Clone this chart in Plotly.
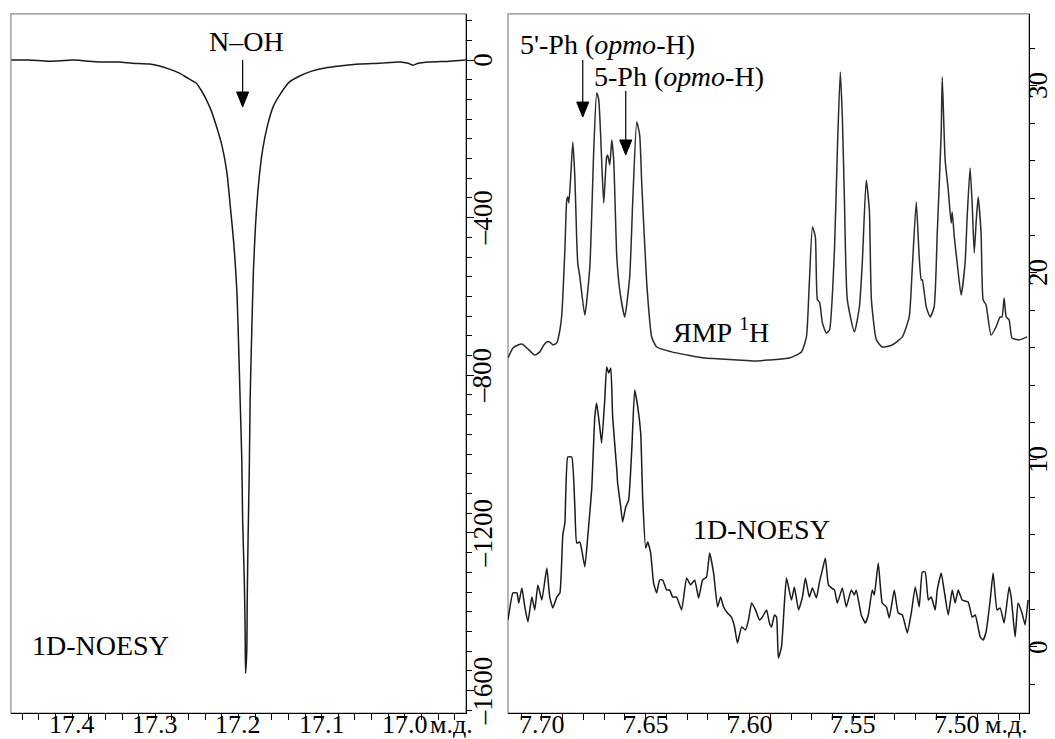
import plotly.graph_objects as go
from plotly.subplots import make_subplots

# left panel: 1D-NOESY, N-OH region
noh_ppm = [17.473, 17.452, 17.428, 17.398, 17.367, 17.343, 17.328, 17.307, 17.295, 17.283,
           17.271, 17.261, 17.255, 17.251, 17.245, 17.239, 17.233, 17.227, 17.220, 17.214,
           17.210, 17.206, 17.202, 17.200, 17.198, 17.196, 17.195, 17.193, 17.192, 17.1915,
           17.190, 17.1895, 17.1885, 17.187, 17.186, 17.184, 17.182, 17.1795, 17.176, 17.171,
           17.165, 17.158, 17.149, 17.139, 17.127, 17.112, 17.096, 17.078, 17.054, 17.030,
           17.006, 16.996, 16.990, 16.984, 16.970, 16.946, 16.927]
noh_int = [0, 0, -3, 0, -5, -5, -8, -10, -15, -23,
           -33, -46, -53, -58, -76, -99, -127, -165, -216, -284,
           -368, -457, -584, -711, -863, -1015, -1168, -1320, -1447, -1556,
           -1497, -1371, -1218, -1041, -863, -685, -533, -419, -317, -228,
           -165, -117, -84, -56, -41, -28, -20, -15, -10, -8,
           -5, -8, -13, -8, -5, -3, 0]

# right panel: 1H spectrum (upper trace)
h1_ppm = [7.7163, 7.7139, 7.7115, 7.7096, 7.7072, 7.7034, 7.7010, 7.6990, 7.6976, 7.6962,
          7.6947, 7.6928, 7.6913, 7.6904, 7.6889, 7.6880, 7.6875, 7.6870, 7.6861, 7.6851,
          7.6841, 7.6832, 7.6827, 7.6817, 7.6793, 7.6769, 7.6750, 7.6736, 7.6726, 7.6712,
          7.6702, 7.6688, 7.6683, 7.6673, 7.6663, 7.6654, 7.6639, 7.6625, 7.6601, 7.6577,
          7.6562, 7.6543, 7.6529, 7.6519, 7.6495, 7.6471, 7.6447, 7.6375, 7.6298, 7.6216,
          7.6135, 7.6058, 7.5976, 7.5904, 7.5808, 7.5750, 7.5726, 7.5712, 7.5697, 7.5683,
          7.5673, 7.5663, 7.5649, 7.5630, 7.5615, 7.5591, 7.5577, 7.5563, 7.5553, 7.5543,
          7.5529, 7.5495, 7.5471, 7.5457, 7.5438, 7.5423, 7.5413, 7.5389, 7.5361, 7.5313,
          7.5264, 7.5231, 7.5216, 7.5197, 7.5183, 7.5173, 7.5168, 7.5149, 7.5130, 7.5111,
          7.5096, 7.5077, 7.5072, 7.5058, 7.5043, 7.5029, 7.5024, 7.5014, 7.5000, 7.4981,
          7.4962, 7.4952, 7.4938, 7.4928, 7.4918, 7.4909, 7.4899, 7.4885, 7.4875, 7.4861,
          7.4837, 7.4813, 7.4793, 7.4784, 7.4774, 7.4764, 7.4750, 7.4736, 7.4702, 7.4663]
h1_int = [15.45, 15.99, 16.15, 16.20, 15.99, 15.61, 15.78, 16.15, 16.31, 16.31,
          16.15, 16.26, 16.95, 17.75, 21.23, 23.90, 24.06, 23.74, 25.13, 27.01,
          25.13, 21.76, 20.53, 19.79, 17.75, 20.32, 26.58, 29.63, 29.25, 26.04,
          23.74, 26.20, 26.31, 25.78, 27.11, 26.04, 20.86, 19.09, 17.65, 19.79,
          23.90, 28.07, 27.38, 24.81, 19.47, 16.58, 16.04, 15.78, 15.61, 15.45,
          15.40, 15.35, 15.29, 15.35, 15.45, 15.78, 16.58, 19.47, 22.46, 21.93,
          18.56, 18.45, 17.33, 16.79, 16.95, 21.23, 26.58, 30.75, 28.34, 23.90,
          18.56, 16.84, 18.18, 20.53, 24.97, 23.37, 18.56, 16.42, 16.04, 16.15,
          16.58, 17.65, 20.32, 23.80, 20.86, 19.63, 19.63, 18.18, 17.65, 18.18,
          22.14, 27.49, 30.48, 26.04, 24.44, 22.67, 23.26, 21.93, 20.53, 18.82,
          20.53, 22.99, 25.61, 23.74, 21.07, 22.67, 24.06, 22.14, 18.56, 18.29,
          16.68, 17.11, 17.65, 17.65, 18.66, 17.65, 17.49, 16.52, 16.42, 16.58]

# right panel: 1D-NOESY (lower trace)
noesy_ppm = [7.7163, 7.7139, 7.7120, 7.7111, 7.7096, 7.7082, 7.7067, 7.7048, 7.7034, 7.7019,
             7.7000, 7.6976, 7.6962, 7.6947, 7.6928, 7.6913, 7.6899, 7.6889, 7.6875, 7.6856,
             7.6841, 7.6832, 7.6817, 7.6808, 7.6793, 7.6779, 7.6760, 7.6745, 7.6736, 7.6721,
             7.6712, 7.6697, 7.6688, 7.6678, 7.6668, 7.6659, 7.6639, 7.6635, 7.6620, 7.6611,
             7.6596, 7.6582, 7.6567, 7.6553, 7.6538, 7.6524, 7.6514, 7.6500, 7.6490, 7.6476,
             7.6462, 7.6447, 7.6433, 7.6418, 7.6399, 7.6385, 7.6370, 7.6351, 7.6327, 7.6303,
             7.6284, 7.6264, 7.6245, 7.6226, 7.6207, 7.6192, 7.6173, 7.6154, 7.6139, 7.6125,
             7.6106, 7.6087, 7.6072, 7.6058, 7.6038, 7.6019, 7.6005, 7.5990, 7.5971, 7.5952,
             7.5938, 7.5918, 7.5904, 7.5894, 7.5880, 7.5870, 7.5861, 7.5846, 7.5832, 7.5822,
             7.5798, 7.5784, 7.5764, 7.5745, 7.5731, 7.5712, 7.5697, 7.5678, 7.5663, 7.5649,
             7.5635, 7.5620, 7.5606, 7.5591, 7.5577, 7.5553, 7.5534, 7.5510, 7.5495, 7.5486,
             7.5462, 7.5442, 7.5428, 7.5409, 7.5399, 7.5380, 7.5361, 7.5341, 7.5327, 7.5303,
             7.5284, 7.5264, 7.5240, 7.5221, 7.5202, 7.5183, 7.5168, 7.5154, 7.5139, 7.5125,
             7.5106, 7.5096, 7.5077, 7.5063, 7.5043, 7.5024, 7.5010, 7.4995, 7.4976, 7.4947,
             7.4928, 7.4913, 7.4889, 7.4875, 7.4861, 7.4841, 7.4827, 7.4808, 7.4793, 7.4774,
             7.4750, 7.4740, 7.4721, 7.4707, 7.4688, 7.4673, 7.4659]
noesy_int = [1.44, 2.89, 2.89, 2.35, 3.16, 2.14, 1.34, 2.67, 1.98, 3.32,
             2.51, 4.22, 2.67, 2.09, 2.67, 2.89, 5.99, 6.63, 10.16, 10.16,
             7.49, 5.56, 5.61, 5.19, 4.28, 5.88, 8.40, 12.30, 13.05, 11.76,
             10.91, 13.21, 14.97, 14.65, 14.92, 12.30, 9.47, 8.77, 7.49, 6.68,
             7.49, 7.86, 10.53, 13.74, 12.83, 11.44, 7.86, 5.29, 5.61, 5.03,
             3.42, 2.89, 3.58, 3.58, 3.05, 3.05, 2.67, 2.67, 1.98, 3.69,
             3.32, 3.58, 2.62, 3.58, 3.74, 5.03, 3.96, 2.14, 2.67, 2.14,
             1.82, 1.60, 1.07, 0.21, 1.07, 0.91, 1.44, 2.35, 1.98, 1.44,
             1.60, 1.98, 1.28, 1.07, 1.71, 1.60, -0.59, 0.00, 2.35, 3.69,
             2.51, 3.21, 1.98, 2.67, 3.69, 2.67, 3.16, 2.62, 3.48, 4.12,
             4.76, 3.32, 3.16, 3.05, 2.35, 3.16, 2.14, 3.05, 2.78, 3.05,
             1.71, 1.28, 1.71, 3.05, 2.78, 4.49, 2.35, 2.14, 1.55, 3.05,
             1.82, 1.71, 0.75, 1.82, 3.21, 2.14, 4.01, 4.01, 2.51, 2.67,
             1.98, 3.05, 3.96, 3.05, 1.71, 3.05, 2.35, 3.05, 2.51, 2.41,
             1.60, 1.71, 0.53, 0.37, 0.80, 2.51, 3.96, 1.98, 2.09, 1.28,
             3.21, 2.67, 0.53, 2.35, 1.82, 1.18, 2.51]

left_yticks = [0, -400, -800, -1200, -1600]
left_yticktext = ["0", "–400", "–800", "–1200", "–1600"]
right_yticks = [0, 10, 20, 30]
right_yticktext = ["0", "10", "20", "30"]
left_xticks = [17.4, 17.3, 17.2, 17.1, 17.0]
left_xticktext = ["17.4", "17.3", "17.2", "17.1", "17.0"]
right_xticks = [7.70, 7.65, 7.60, 7.55, 7.50]
right_xticktext = ["7.70", "7.65", "7.60", "7.55", "7.50"]

FONT = "Liberation Serif"
INK = "#1a1a1a"

fig = make_subplots(rows=1, cols=2)

fig.add_trace(go.Scatter(x=noh_ppm, y=noh_int, mode="lines",
                         line=dict(color=INK, width=1.5, shape="spline", smoothing=0.6),
                         showlegend=False), row=1, col=1)
fig.add_trace(go.Scatter(x=h1_ppm, y=h1_int, mode="lines",
                         line=dict(color="#2a2a2a", width=1.5, shape="spline", smoothing=0.5),
                         showlegend=False), row=1, col=2)
fig.add_trace(go.Scatter(x=noesy_ppm, y=noesy_int, mode="lines",
                         line=dict(color=INK, width=1.5, shape="spline", smoothing=0.4),
                         showlegend=False), row=1, col=2)

# axes draw lines and ticks; the tick labels are placed below as text
common = dict(showgrid=False, zeroline=False, showline=True, linecolor="black", linewidth=1.2,
              ticks="outside", ticklen=7, tickcolor="black", automargin=False,
              showticklabels=False)

fig.update_xaxes(common, row=1, col=1, domain=[0.0104, 0.4417],
                 range=[17.4735, 16.9265], tickvals=left_xticks,
                 minor=dict(dtick=0.02, ticks="outside", ticklen=6, tickcolor="black"))
fig.update_xaxes(common, row=1, col=2, domain=[0.4815, 0.9754],
                 range=[7.7163, 7.4654], tickvals=right_xticks,
                 minor=dict(dtick=0.01, ticks="outside", ticklen=6, tickcolor="black"))
fig.update_yaxes(common, row=1, col=1, domain=[0.0352, 0.9811], side="right",
                 range=[-1657, 117], tickvals=left_yticks,
                 minor=dict(dtick=50, ticks="outside", ticklen=5, tickcolor="black"))
fig.update_yaxes(common, row=1, col=2, domain=[0.0352, 0.9811], side="right",
                 range=[-3.53, 33.85], tickvals=right_yticks,
                 minor=dict(dtick=2, ticks="outside", ticklen=5, tickcolor="black"))

# gray frame around each panel
for xr, yr in (("x domain", "y domain"), ("x2 domain", "y2 domain")):
    fig.add_shape(type="rect", xref=xr, yref=yr, x0=0, x1=1, y0=0, y1=1,
                  line=dict(color="#8a8a8a", width=1.2), layer="below")

tickfont_x = dict(family=FONT, size=26, color="black")
tickfont_y = dict(family=FONT, size=27, color="black")

# x tick labels
for ref, vals, texts in (("x", left_xticks, left_xticktext), ("x2", right_xticks, right_xticktext)):
    for v, t in zip(vals, texts):
        fig.add_annotation(x=v, xref=ref, y=0.0195, yref="paper", text=t, showarrow=False,
                           xanchor="center", yanchor="middle", font=tickfont_x)

# y tick labels, rotated, to the right of each panel
for ref, xpos, vals, texts in (("y", 0.4575, left_yticks, left_yticktext),
                               ("y2", 0.984, right_yticks, right_yticktext)):
    for v, t in zip(vals, texts):
        fig.add_annotation(x=xpos, xref="paper", y=v, yref=ref, text=t, showarrow=False,
                           textangle=-90, xanchor="center", yanchor="middle", font=tickfont_y)

# unit labels next to the last x tick
fig.add_annotation(x=0.4284, y=0.0195, xref="paper", yref="paper", xanchor="center",
                   yanchor="middle", text="м.д.", showarrow=False, font=tickfont_x)
fig.add_annotation(x=0.9536, y=0.0195, xref="paper", yref="paper", xanchor="center",
                   yanchor="middle", text="м.д.", showarrow=False, font=tickfont_x)


def add_arrow(xref, yref, x, y_tail, y_base, y_tip, half_w):
    # vertical arrow: shaft plus a filled triangular head
    fig.add_shape(type="line", xref=xref, yref=yref, x0=x, x1=x, y0=y_tail, y1=y_base,
                  line=dict(color="black", width=1.2))
    fig.add_shape(type="path", xref=xref, yref=yref, fillcolor="black",
                  line=dict(color="black", width=1),
                  path=f"M {x - half_w},{y_base} L {x + half_w},{y_base} L {x},{y_tip} Z")


add_arrow("x", "y", 17.195, 0, -81, -119, 0.0072)
add_arrow("x2", "y2", 7.6803, 31.39, 29.14, 28.34, 0.0029)
add_arrow("x2", "y2", 7.6596, 29.73, 27.11, 26.31, 0.0029)

txt = dict(family=FONT, size=28, color="black")

fig.add_annotation(x=17.19, y=48, xref="x", yref="y", text="N–OH", showarrow=False, font=txt)
fig.add_annotation(x=17.366, y=-1485, xref="x", yref="y", text="1D-NOESY", showarrow=False, font=txt)

fig.add_annotation(x=7.7115, y=32.2, xref="x2", yref="y2", xanchor="left",
                   text="5'-Ph (<i>орто</i>-H)", showarrow=False, font=txt)
fig.add_annotation(x=7.6760, y=30.5, xref="x2", yref="y2", xanchor="left",
                   text="5-Ph (<i>орто</i>-H)", showarrow=False, font=txt)
fig.add_annotation(x=7.6139, y=16.95, xref="x2", yref="y2", text="ЯМР <sup>1</sup>H",
                   showarrow=False, font=txt)
fig.add_annotation(x=7.5942, y=6.26, xref="x2", yref="y2", text="1D-NOESY",
                   showarrow=False, font=txt)

fig.update_layout(width=1055, height=739, margin=dict(l=0, r=0, t=0, b=0),
                  plot_bgcolor="white", paper_bgcolor="white", font=dict(family=FONT))

fig.write_html("out.html", config={"displayModeBar": False},
               post_script="document.body.style.margin='0';")
